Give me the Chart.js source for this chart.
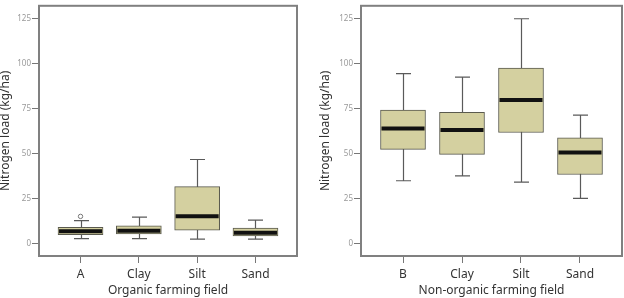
<!DOCTYPE html>
<html>
<head>
<meta charset="utf-8">
<script src="https://cdn.jsdelivr.net/npm/chart.js@4.4.0/dist/chart.umd.min.js"></script>
<style>
  body { margin: 0; width: 624px; height: 298px; overflow: hidden; background: #fff; position: relative; }
  .panel { position: absolute; top: 0; width: 314px; height: 298px; }
</style>
</head>
<body>
<div class="panel" style="left:-12px"><canvas id="organic"></canvas></div>
<div class="panel" style="left:310px"><canvas id="nonOrganic"></canvas></div>
<script>
// organic farming field
const orgCategories = ['A', 'Clay', 'Silt', 'Sand'];
const orgMin = [2.8, 2.8, 2.6, 2.6];
const orgQ1 = [5.0, 5.5, 7.6, 4.4];
const orgMedian = [7.0, 7.2, 15.3, 6.1];
const orgQ3 = [9.1, 10.0, 31.7, 8.7];
const orgMax = [12.9, 14.8, 46.8, 13.1];
const orgOutliers = [[15.2], [], [], []];

// non-organic farming field
const nonCategories = ['B', 'Clay', 'Silt', 'Sand'];
const nonMin = [35.0, 37.7, 34.2, 25.2];
const nonQ1 = [52.4, 49.7, 61.8, 38.5];
const nonMedian = [64.0, 63.2, 79.9, 50.7];
const nonQ3 = [74.2, 73.0, 97.6, 58.8];
const nonMax = [94.5, 92.6, 125.0, 71.5];
const nonOutliers = [[], [], [], []];

const yTicks = [0, 25, 50, 75, 100, 125];

const boxPlugin = {
    id: 'boxParts',
    beforeDatasetsDraw(chart) {
        const { ctx, chartArea, scales } = chart;
        const s = chart.config.options.plugins.boxParts;
        ctx.save();
        ctx.strokeStyle = '#808080';
        ctx.lineWidth = 2;
        ctx.strokeRect(chartArea.left, chartArea.top, chartArea.right - chartArea.left, chartArea.bottom - chartArea.top);
        ctx.strokeStyle = '#5a5a5a';
        ctx.lineWidth = 1.2;
        s.min.forEach((lo, i) => {
            const x = Math.round(scales.x.getPixelForValue(i)) + 0.5;
            const yLo = scales.y.getPixelForValue(lo);
            const yHi = scales.y.getPixelForValue(s.max[i]);
            ctx.beginPath();
            ctx.moveTo(x, yLo);
            ctx.lineTo(x, yHi);
            ctx.moveTo(x - 7.5, yLo);
            ctx.lineTo(x + 7.5, yLo);
            ctx.moveTo(x - 7.5, yHi);
            ctx.lineTo(x + 7.5, yHi);
            ctx.stroke();
        });
        ctx.restore();
    },
    afterDatasetsDraw(chart) {
        const { ctx, scales } = chart;
        const s = chart.config.options.plugins.boxParts;
        const bars = chart.getDatasetMeta(0).data;
        ctx.save();
        ctx.strokeStyle = '#111';
        ctx.lineWidth = 4;
        s.median.forEach((m, i) => {
            const x = scales.x.getPixelForValue(i);
            const y = scales.y.getPixelForValue(m);
            const w = bars[i].width / 2 - 1;
            ctx.beginPath();
            ctx.moveTo(x - w, y);
            ctx.lineTo(x + w, y);
            ctx.stroke();
        });
        ctx.restore();
    }
};

function makeChart(id, cats, mins, q1s, meds, q3s, maxs, outs, xTitle, titlePad) {
    const outlierPoints = [];
    outs.forEach((list, i) => list.forEach(v => outlierPoints.push({ x: i, y: v })));
    return new Chart(document.getElementById(id), {
        type: 'bar',
        data: {
            datasets: [{
                type: 'bar',
                data: cats.map((c, i) => ({ x: i, y: [q1s[i], q3s[i]] })),
                backgroundColor: '#d4d0a0',
                borderColor: '#5a5a4e',
                borderWidth: 1,
                borderSkipped: false,
                barThickness: 45
            }, {
                type: 'scatter',
                data: outlierPoints,
                pointStyle: 'circle',
                pointRadius: 2.2,
                backgroundColor: '#fff',
                borderColor: '#777',
                borderWidth: 1
            }]
        },
        options: {
            responsive: true,
            maintainAspectRatio: false,
            animation: false,
            layout: { padding: { top: 5, right: 2, bottom: 0, left: 0 } },
            scales: {
                x: {
                    type: 'linear',
                    offset: false,
                    min: -0.712,
                    max: 3.712,
                    afterBuildTicks: (scale) => { scale.ticks = cats.map((c, i) => ({ value: i })); },
                    afterFit: (scale) => { scale.height = 42; },
                    border: { display: false },
                    grid: { display: true, offset: false, drawOnChartArea: false, tickLength: 7, color: '#777' },
                    ticks: {
                        callback: (v) => cats[v],
                        color: '#333',
                        padding: 4,
                        maxRotation: 0,
                        font: { family: "'Noto Sans', sans-serif", size: 12 }
                    },
                    title: {
                        display: true,
                        text: xTitle,
                        color: '#333',
                        padding: { top: 0, bottom: 0 },
                        font: { family: "'Noto Sans', sans-serif", size: 12 }
                    }
                },
                y: {
                    min: -6.8,
                    max: 132.2,
                    afterBuildTicks: (scale) => { scale.ticks = yTicks.map(v => ({ value: v })); },
                    afterFit: (scale) => { scale.width = 51; },
                    border: { display: false },
                    grid: { display: true, drawOnChartArea: false, tickLength: 7, color: '#777' },
                    ticks: {
                        color: '#999',
                        padding: 1,
                        font: { family: "'Noto Sans', sans-serif", size: 8 }
                    },
                    title: {
                        display: true,
                        text: 'Nitrogen load (kg/ha)',
                        color: '#333',
                        padding: { top: titlePad, bottom: 0 },
                        font: { family: "'Noto Sans', sans-serif", size: 12 }
                    }
                }
            },
            plugins: {
                legend: { display: false },
                tooltip: { enabled: false },
                boxParts: { min: mins, max: maxs, median: meds }
            }
        },
        plugins: [boxPlugin]
    });
}

makeChart('organic', orgCategories, orgMin, orgQ1, orgMedian, orgQ3, orgMax, orgOutliers, 'Organic farming field', 10);
makeChart('nonOrganic', nonCategories, nonMin, nonQ1, nonMedian, nonQ3, nonMax, nonOutliers, 'Non-organic farming field', 8);
</script>
</body>
</html>
